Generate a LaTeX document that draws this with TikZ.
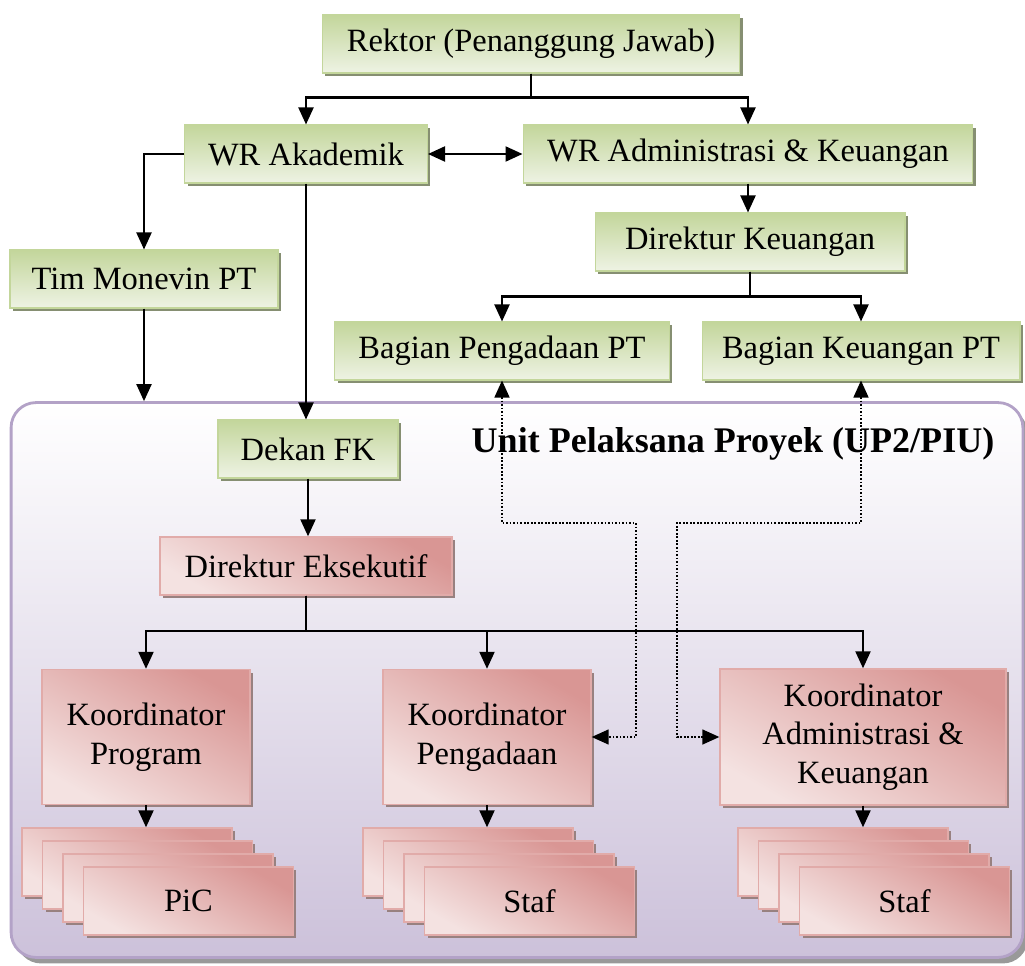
\documentclass[tikz,border=0pt]{standalone}
\usepackage{fontspec}
\setmainfont{Liberation Serif}
\usetikzlibrary{arrows.meta,positioning,shadows}
\definecolor {hijau}{HTML}{C3D69B}
\definecolor {hijaumuda}{HTML}{EEF3E4}
\definecolor {merah}{HTML}{D99694}
\definecolor {merahmuda}{HTML}{F4E2E1}
\definecolor {ungu}{HTML}{B3A2C7}
\definecolor {ungumuda}{HTML}{CCC1DA}

\begin{document}
\begin{tikzpicture}[x =0.02cm ,y =-0.02cm ,
line width =1.2pt ,>={Triangle[length =0.34cm ,width =0.3cm]} ,
font =\fontsize{18.5}{22}\selectfont ,
hijaubox/.style ={ rectangle ,top color =hijau ,bottom color =hijaumuda ,
draw =hijau ,line width =0.6pt ,minimum height =1.16cm ,
drop shadow ={shadow xshift =0.06cm ,shadow yshift =-0.06cm ,fill =black!30!hijau!70!gray ,opacity =1}},
merahbox/.style ={ rectangle ,top color =merah ,bottom color =merahmuda ,shading angle =-30 ,
draw =merah!80!white ,line width =0.8pt ,align =center ,
drop shadow ={shadow xshift =0.06cm ,shadow yshift =-0.06cm ,fill =merah!50!black!70 ,opacity =1}},
tumpuk/.style ={ merahbox ,minimum width =4.2cm ,minimum height =1.36cm},
titik/.style ={ <-> ,line width =0.8pt ,dash pattern =on 1pt off 1pt}]

\useasboundingbox (0,0) rectangle (1025,966);

% kotak besar UP2/PIU
\node[rectangle ,rounded corners =0.5cm ,top color =white ,bottom color =ungumuda ,
draw =ungu ,line width =1.6pt ,minimum width =20.24cm ,minimum height =11.1cm ,
drop shadow ={shadow xshift =0.1cm ,shadow yshift =-0.12cm ,fill =gray!80 ,opacity =1}]
(piu) at (517,680) {};
\node[font =\bfseries\fontsize{20.5}{24}\selectfont] (judul) at (733,444) {Unit Pelaksana Proyek (UP2/PIU)};

\node[hijaubox ,minimum width =8.36cm] (1) at (531,44) {Rektor (Penanggung Jawab)};
\node[hijaubox ,minimum width =4.86cm] (2) at (306,154) {WR Akademik};
\node[hijaubox ,minimum width =9cm] (3) at (748,154) {WR Administrasi \& Keuangan};
\node[hijaubox ,minimum width =5.36cm] (4) at (144,279) {Tim Monevin PT};
\node[hijaubox ,minimum width =6.2cm] (5) at (750,242) {Direktur Keuangan};
\node[hijaubox ,minimum width =6.7cm] (6) at (502,351) {Bagian Pengadaan PT};
\node[hijaubox ,minimum width =6.36cm] (7) at (861,351) {Bagian Keuangan PT};
\node[hijaubox ,minimum width =3.6cm] (8) at (308,449) {Dekan FK};
\node[merahbox ,minimum width =5.84cm ,minimum height =1.16cm] (9) at (306,566) {Direktur Eksekutif};
\node[merahbox ,minimum width =4.16cm ,minimum height =2.7cm] (10) at (146,737) {Koordinator\\Program};
\node[merahbox ,minimum width =4.16cm ,minimum height =2.7cm] (11) at (487,737) {Koordinator\\Pengadaan};
\node[merahbox ,minimum width =5.72cm ,minimum height =2.72cm] (12) at (863,737) {Koordinator\\Administrasi \&\\Keuangan};

% tumpukan PiC dan Staf
\foreach \i in {0,1,2} {
\node[tumpuk] (a\i) at (127+20.5*\i,862+13*\i) {};
\node[tumpuk] (b\i) at (468+20.5*\i,862+13*\i) {};
\node[tumpuk] (c\i) at (843+20.5*\i,862+13*\i) {};
}
\node[tumpuk] (a3) at (188.5,901) {PiC};
\node[tumpuk] (b3) at (529.5,901) {Staf};
\node[tumpuk] (c3) at (904.5,901) {Staf};

\draw[->] (1.south) -- ++(0,24) -| (2.north);
\draw[->] (1.south) -- ++(0,24) -| (3.north);
\draw[<->] (2) -- (3);
\draw[->] (2.west) -| (4.north);
\draw[->] (2.south) -- (2.south |- 8.north);
\draw[->] (4.south) -- (4.south |- piu.north);
\draw[->] (3.south) -- (3.south |- 5.north);
\draw[->] (5.south) -- ++(0,25) -| (6.north);
\draw[->] (5.south) -- ++(0,25) -| (7.north);
\draw[->] (8.south) -- (8.south |- 9.north);
\draw[->] (9.south) -- ++(0,35) -| (10.north);
\draw[->] (9.south) -- ++(0,35) -| (11.north);
\draw[->] (9.south) -- ++(0,35) -| (12.north);
\draw[->] (10.south) -- (10.south |- a0.north);
\draw[->] (11.south) -- (11.south |- b0.north);
\draw[->] (12.south) -- (12.south |- c0.north);

% garis koordinasi
\coordinate (t1) at (636,523);
\coordinate (t2) at (677,523);
\draw[titik] (6.south) |- (t1) |- (11.east);
\draw[titik] (7.south) |- (t2) |- (12.west);
\end{tikzpicture}
\end{document}
